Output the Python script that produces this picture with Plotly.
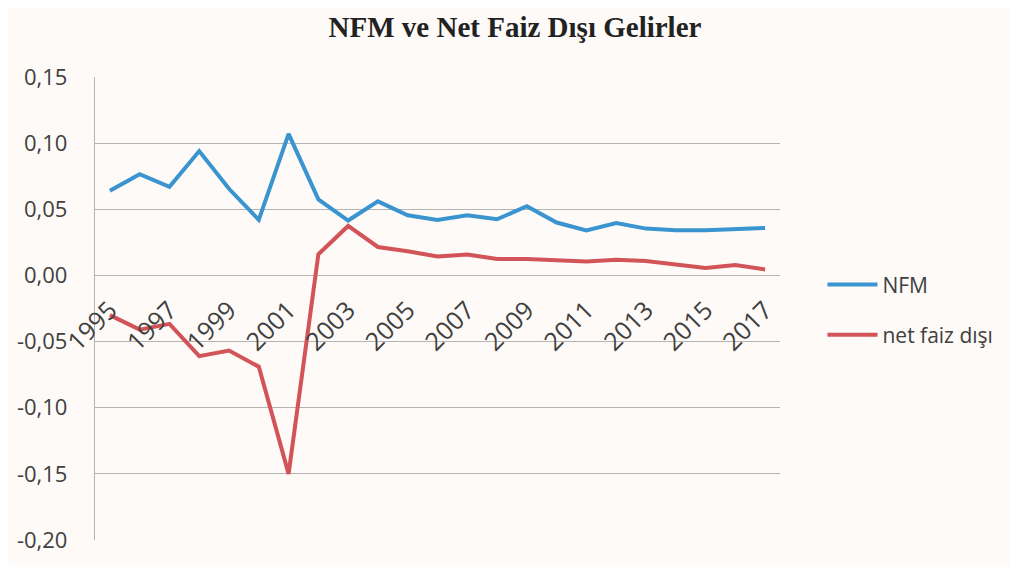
import plotly.graph_objects as go

years = [str(y) for y in range(1995, 2018)]
nfm = [0.064, 0.0765, 0.067, 0.094, 0.0655, 0.042, 0.107, 0.0575, 0.0415, 0.056, 0.0455,
       0.042, 0.0455, 0.0425, 0.0523, 0.040, 0.034, 0.0396, 0.0354, 0.0341, 0.0341, 0.0348, 0.0359]
net_faiz_disi = [-0.030, -0.041, -0.0366, -0.061, -0.0568, -0.069, -0.150, 0.016, 0.0374, 0.0215,
                 0.0182, 0.0144, 0.0159, 0.0124, 0.0124, 0.0114, 0.0106, 0.0119, 0.0109, 0.0083,
                 0.0056, 0.0078, 0.0045]
x_tick_years = [str(y) for y in range(1995, 2018, 2)]
y_tick_vals = [0.15, 0.10, 0.05, 0.0, -0.05, -0.10, -0.15, -0.20]
y_tick_text = ["0,15", "0,10", "0,05", "0,00", "-0,05", "-0,10", "-0,15", "-0,20"]

title = "NFM ve Net Faiz Dışı Gelirler"
BG = "#FDFAF7"
FONT = "Open Sans"

fig = go.Figure()
fig.add_trace(go.Scatter(x=years, y=nfm, mode="lines", name="NFM", legendgroup="a",
                         line=dict(color="#3A94CF", width=4)))
fig.add_trace(go.Scatter(x=years, y=net_faiz_disi, mode="lines", name="net faiz dışı",
                         legendgroup="b", line=dict(color="#D25458", width=4)))

y_lo, y_hi = -0.20, 0.15
zero_pos = (0 - y_lo) / (y_hi - y_lo)

fig.update_layout(
    width=1010, height=557,
    margin=dict(l=87, r=238, t=69, b=25, pad=0),
    paper_bgcolor=BG, plot_bgcolor=BG,
    title=dict(text="<b>" + title + "</b>", x=0.502, xanchor="center", y=0.967, yanchor="middle",
               font=dict(family="Liberation Serif", size=29, color="#222222"),
               automargin=False),
    font=dict(family=FONT, color="#404040"),
    showlegend=True,
    legend=dict(x=1.062, y=0.497, xanchor="left", yanchor="middle",
                font=dict(family=FONT, size=21, color="#404040"),
                bgcolor="rgba(0,0,0,0)", traceorder="grouped", tracegroupgap=20,
                itemwidth=50),
    xaxis=dict(type="category", anchor="free", position=zero_pos, automargin=False,
               showgrid=False, showline=False, zeroline=False, ticks="",
               tickmode="array", tickvals=x_tick_years, ticktext=x_tick_years,
               tickangle=-45, ticklabelstandoff=14,
               tickfont=dict(family=FONT, size=25, color="#404040"),
               range=[-0.5, len(years) - 0.5]),
    yaxis=dict(range=[y_lo, y_hi], tickmode="array", tickvals=y_tick_vals, ticktext=y_tick_text,
               automargin=False,
               showgrid=True, gridcolor="#B4B4B4", gridwidth=1.3, zeroline=False,
               showline=True, linecolor="#B4B4B4", linewidth=1.3,
               ticks="", ticklabelstandoff=22,
               tickfont=dict(family=FONT, size=22, color="#404040")),
)

fig.write_html("out.html")
